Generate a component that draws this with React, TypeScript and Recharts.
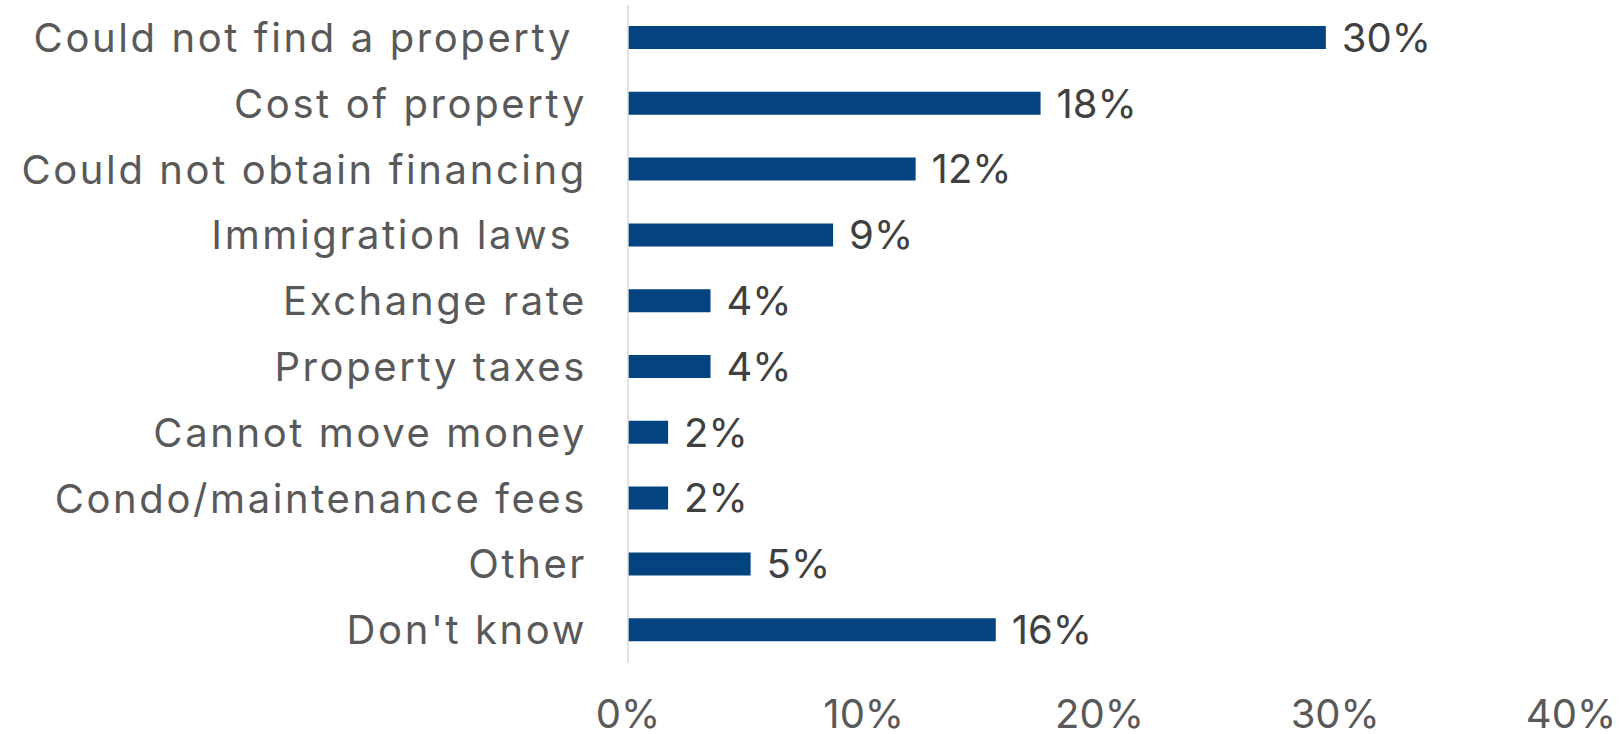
import React from 'react';
import { BarChart, Bar, XAxis, YAxis, LabelList } from 'recharts';

const categories = [
  'Could not find a property ',
  'Cost of property',
  'Could not obtain financing',
  'Immigration laws ',
  'Exchange rate',
  'Property taxes',
  'Cannot move money',
  'Condo/maintenance fees',
  'Other',
  "Don't know",
];

// bar lengths (in %), labels shown rounded
const shares = [29.6, 17.5, 12.2, 8.7, 3.5, 3.5, 1.7, 1.7, 5.2, 15.6];

const xTicks = [0, 10, 20, 30, 40];

const FONT = 'Inter, "Open Sans", sans-serif';

const data = categories.map((name, i) => ({ name, value: shares[i] }));

const CategoryTick = (props: any) => {
  const { x, y, payload } = props;
  return (
    <text
      x={x}
      y={y}
      dy={14}
      textAnchor="end"
      fill="#595959"
      fontSize={40}
      fontFamily={FONT}
      letterSpacing={2.6}
      style={{ whiteSpace: 'pre' }}
    >
      {payload.value}
    </text>
  );
};

export default function App() {
  return (
    <div style={{ position: 'absolute', left: 0, top: 0, width: 1623, height: 734, background: '#fff' }}>
      <BarChart
        width={1623}
        height={734}
        data={data}
        layout="vertical"
        margin={{ top: 5, right: 52, left: 0, bottom: 0 }}
        barSize={23}
      >
        <XAxis
          type="number"
          domain={[0, 40]}
          ticks={xTicks}
          tickFormatter={(v: number) => `${v}%`}
          axisLine={false}
          tickLine={false}
          height={71}
          tickMargin={31}
          tick={{ fill: '#595959', fontSize: 40, fontFamily: FONT }}
        />
        <YAxis
          type="category"
          dataKey="name"
          width={628}
          axisLine={{ stroke: '#D9D9D9', strokeWidth: 1.5 }}
          tickLine={false}
          tickSize={0}
          tickMargin={41}
          tick={<CategoryTick />}
          interval={0}
        />
        <Bar dataKey="value" fill="#03437F" isAnimationActive={false}>
          <LabelList
            dataKey="value"
            position="right"
            offset={16}
            formatter={(v: any) => `${Math.round(Number(v))}%`}
            style={{ fill: '#404040', fontSize: 40, fontFamily: FONT }}
          />
        </Bar>
      </BarChart>
    </div>
  );
}
